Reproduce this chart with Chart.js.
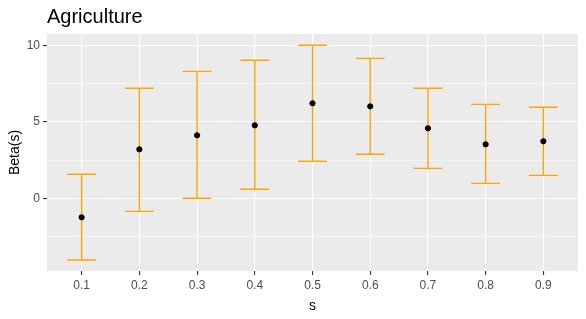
<!DOCTYPE html>
<html>
<head>
<meta charset="utf-8">
<script src="https://cdn.jsdelivr.net/npm/chart.js@4/dist/chart.umd.min.js"></script>
<style>
  html, body { margin: 0; padding: 0; background: #fff; }
  #wrap { width: 586px; height: 319px; }
</style>
</head>
<body>
<div id="wrap"><canvas id="chart"></canvas></div>
<script>
// valeurs
const sLabels = ['0.1', '0.2', '0.3', '0.4', '0.5', '0.6', '0.7', '0.8', '0.9'];
const beta  = [-1.24, 3.2, 4.12, 4.77, 6.21, 6.01, 4.58, 3.53, 3.73];
const upper = [1.57, 7.19, 8.3, 9.02, 10.0, 9.15, 7.19, 6.14, 5.95];
const lower = [-4.03, -0.85, 0.0, 0.59, 2.42, 2.88, 1.96, 0.98, 1.5];
const yTicks = [-2.5, 0, 2.5, 5, 7.5, 10];

const points = beta.map((b, i) => ({ x: i + 1, y: b }));
const tickFont = { family: 'Liberation Sans, Arial, sans-serif', size: 12 };

const panelBg = {
    id: 'panelBg',
    beforeDraw(chart) {
        const { ctx, chartArea: a } = chart;
        ctx.save();
        ctx.fillStyle = '#EBEBEB';
        ctx.fillRect(a.left, a.top, a.right - a.left, a.bottom - a.top);
        ctx.restore();
    }
};

// barres d'erreur dessinées avec les échelles
const errorBars = {
    id: 'errorBars',
    beforeDatasetsDraw(chart) {
        const { ctx, scales: { x, y } } = chart;
        ctx.save();
        ctx.strokeStyle = '#FFA500';
        ctx.lineWidth = 1.4;
        upper.forEach((u, i) => {
            const xc = x.getPixelForValue(i + 1);
            const x0 = x.getPixelForValue(i + 1 - 0.25);
            const x1 = x.getPixelForValue(i + 1 + 0.25);
            const yu = y.getPixelForValue(u);
            const yl = y.getPixelForValue(lower[i]);
            ctx.beginPath();
            ctx.moveTo(xc, yu); ctx.lineTo(xc, yl);
            ctx.moveTo(x0, yu); ctx.lineTo(x1, yu);
            ctx.moveTo(x0, yl); ctx.lineTo(x1, yl);
            ctx.stroke();
        });
        ctx.restore();
    }
};

const titleText = {
    id: 'titleText',
    afterDraw(chart) {
        const { ctx, chartArea: a } = chart;
        ctx.save();
        ctx.fillStyle = '#000';
        ctx.font = '20px Liberation Sans, Arial, sans-serif';
        ctx.textBaseline = 'alphabetic';
        ctx.fillText('Agriculture', a.left, 23);
        ctx.restore();
    }
};

new Chart(document.getElementById('chart'), {
    type: 'scatter',
    data: {
        datasets: [{
            data: points,
            backgroundColor: '#000',
            borderColor: '#000',
            pointRadius: 2.6,
            pointHoverRadius: 2.6
        }]
    },
    options: {
        responsive: true,
        maintainAspectRatio: false,
        animation: false,
        layout: { padding: { left: 7, right: 8, top: 34, bottom: 4 } },
        plugins: { legend: { display: false }, tooltip: { enabled: false } },
        scales: {
            x: {
                type: 'linear',
                min: 0.4,
                max: 9.6,
                afterBuildTicks: s => { s.ticks = sLabels.map((l, i) => ({ value: i + 1 })); },
                afterFit: s => { s.height = 44; },
                border: { display: false },
                grid: { color: '#fff', lineWidth: 1.1, tickColor: '#333', tickLength: 4 },
                ticks: {
                    color: '#4D4D4D', font: tickFont, padding: 3,
                    autoSkip: false, maxRotation: 0,
                    callback: v => sLabels[v - 1]
                },
                title: { display: true, text: 's', color: '#000', font: { family: 'Liberation Sans, Arial, sans-serif', size: 14 }, padding: { top: 0, bottom: 0 } }
            },
            y: {
                min: -4.75,
                max: 10.74,
                afterBuildTicks: s => { s.ticks = yTicks.map(v => ({ value: v })); },
                afterFit: s => { s.width = 40; },
                border: { display: false },
                grid: {
                    color: '#fff',
                    lineWidth: c => (c.tick && c.tick.value % 5 === 0) ? 1.1 : 0.55,
                    tickColor: c => (c.tick && c.tick.value % 5 === 0) ? '#333' : 'rgba(0,0,0,0)',
                    tickLength: 4
                },
                ticks: {
                    color: '#4D4D4D', font: tickFont, padding: 3,
                    callback: v => (v % 5 === 0) ? String(v) : ''
                },
                title: { display: true, text: 'Beta(s)', color: '#000', font: { family: 'Liberation Sans, Arial, sans-serif', size: 14 }, padding: { top: 0, bottom: 4 } }
            }
        }
    },
    plugins: [panelBg, errorBars, titleText]
});
</script>
</body>
</html>
